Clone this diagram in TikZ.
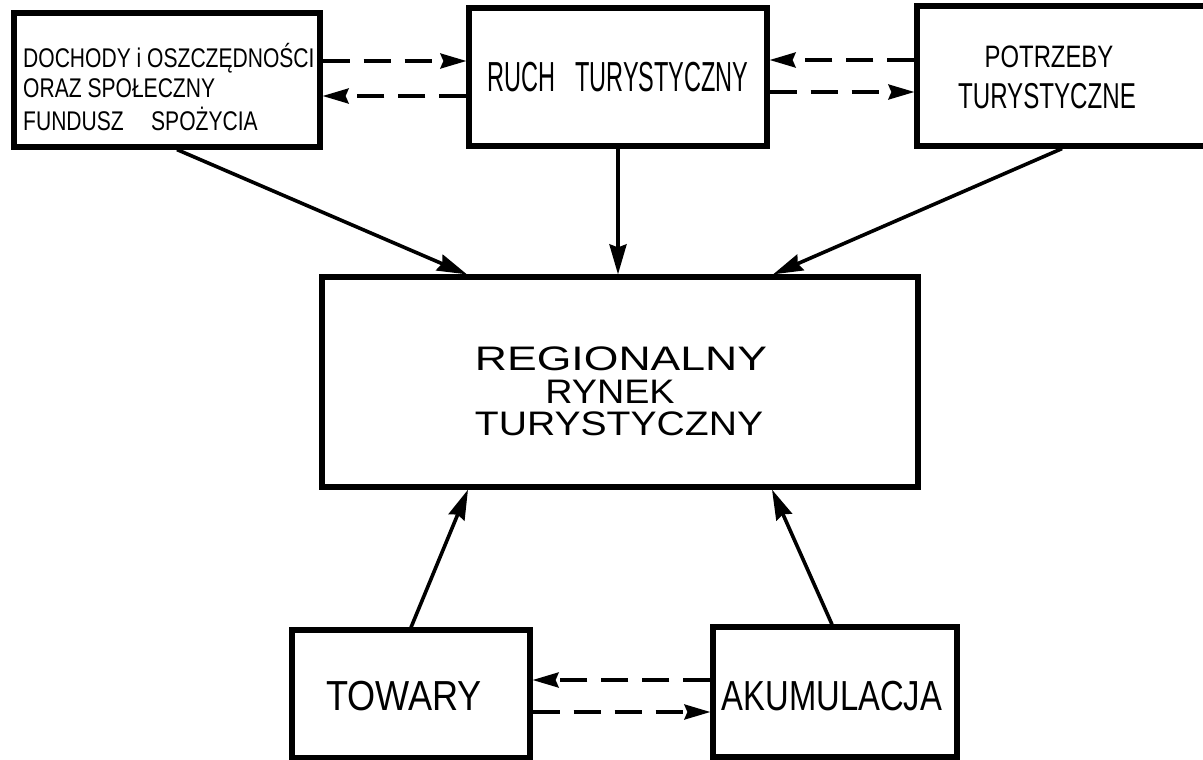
\documentclass[tikz,border=0pt]{standalone}
\usepackage{fontspec}
\setmainfont{Liberation Sans}
\usepackage{graphicx}
\usetikzlibrary{arrows.meta,calc}
\newcommand{\hx}[2]{\scalebox{#1}[1]{#2}}
\begin{document}
\begin{tikzpicture}[x=1pt,y=-1pt,
  box/.style={draw, line width=5.2pt, inner sep=0pt},
  txt/.style={inner sep=0pt, anchor=base},
  txtl/.style={inner sep=0pt, anchor=base west},
  arr/.style={line width=3.6pt, -{Stealth[length=30pt,width=17pt,inset=3pt]}},
  darr/.style={line width=3.4pt, -{Stealth[length=26pt,width=15pt,inset=3pt]}, dash pattern=on 27pt off 14pt}]
\useasboundingbox (0,0) rectangle (1203,760);
\fill[white] (0,0) rectangle (1203,760);
% boxes
\node[box, minimum width=306pt, minimum height=134pt] (A) at (167,80) {};
\node[box, minimum width=298pt, minimum height=138pt] (B) at (618,77) {};
\node[box, minimum width=290pt, minimum height=140pt] (C) at (1062,76) {};
\node[box, minimum width=596pt, minimum height=210pt] (D) at (620,382) {};
\node[box, minimum width=238pt, minimum height=128pt] (E) at (411,694) {};
\node[box, minimum width=244pt, minimum height=130pt] (F) at (835,692) {};
% texts
\begin{scope}[font=\fontsize{27pt}{30pt}\selectfont]
\node[txtl] (A1) at (23,67) {\hx{0.78}{DOCHODY i OSZCZĘDNOŚCI}};
\node[txtl] (A2) at (23,97) {\hx{0.78}{ORAZ SPOŁECZNY}};
\node[txtl] (A3) at (23,130) {\hx{0.78}{FUNDUSZ\hspace{1.3em}SPOŻYCIA}};
\end{scope}
\node[txt, font=\fontsize{42pt}{46pt}\selectfont] (B1) at (618,92) {\hx{0.56}{RUCH}\hspace{20pt}\hx{0.56}{TURYSTYCZNY}};
\node[txt, font=\fontsize{31pt}{34pt}\selectfont] (C1) at (1049,67) {\hx{0.77}{POTRZEBY}};
\node[txt, font=\fontsize{36pt}{40pt}\selectfont] (C2) at (1047,108) {\hx{0.67}{TURYSTYCZNE}};
\begin{scope}[font=\fontsize{34pt}{38pt}\selectfont]
\node[txt] (D1) at (621,370) {\hx{1.31}{REGIONALNY}};
\node[txt] (D2) at (610,403) {\hx{1.11}{RYNEK}};
\node[txt] (D3) at (619,435) {\hx{1.15}{TURYSTYCZNY}};
\end{scope}
\node[txt, font=\fontsize{42pt}{46pt}\selectfont] (E1) at (404,710) {\hx{0.86}{TOWARY}};
\node[txt, font=\fontsize{42pt}{46pt}\selectfont] (F1) at (832,710) {\hx{0.78}{AKUMULACJA}};
% row coordinates
\coordinate (r61) at (0,61);
\coordinate (r96) at (0,96);
\coordinate (r60) at (0,60);
\coordinate (r92) at (0,92);
\coordinate (r680) at (0,680);
\coordinate (r712) at (0,712);
% dashed connectors
\draw[darr] (A.east |- r61) -- (B.west |- r61);
\draw[darr] (B.west |- r96) -- (A.east |- r96);
\draw[darr] (C.west |- r60) -- (B.east |- r60);
\draw[darr] (B.east |- r92) -- (C.west |- r92);
\draw[darr] (F.west |- r680) -- (E.east |- r680);
\draw[darr] (E.east |- r712) -- (F.west |- r712);
% solid connectors
\draw[arr] ([xshift=10pt]A.south) -- ([xshift=-153pt]D.north);
\draw[arr] (B.south) -- ([xshift=-2pt]D.north);
\draw[arr] (C.south) -- ([xshift=153pt]D.north);
\draw[arr] (E.north) -- ([xshift=-152pt]D.south);
\draw[arr] ([xshift=-3pt]F.north) -- ([xshift=152pt]D.south);
\end{tikzpicture}
\end{document}
